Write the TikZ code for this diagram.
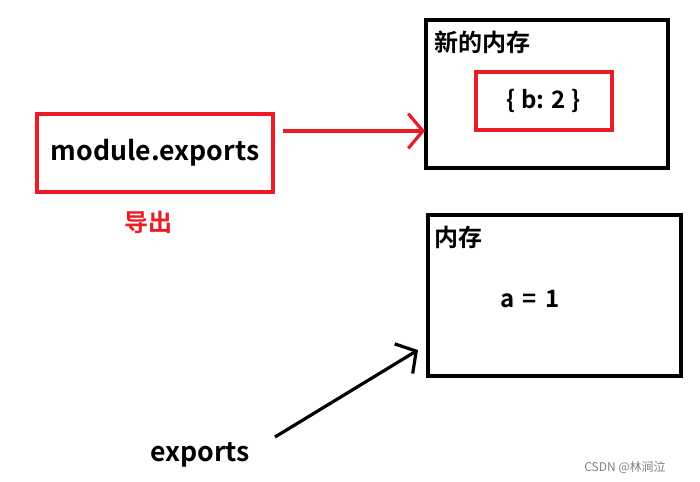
\documentclass[tikz,border=0pt]{standalone}
\usepackage{fontspec}
\setmainfont{Noto Sans CJK SC}[BoldFont={Noto Sans CJK SC Bold}]
\usetikzlibrary{arrows.meta}
\definecolor{pr}{HTML}{ED1C24}
\begin{document}
\begin{tikzpicture}[x=0.75pt,y=-0.75pt,
  bbox/.style={draw=black,line width=3pt},
  rbox/.style={draw=pr,line width=3pt},
  lbl/.style={font=\bfseries\fontsize{18}{21}\selectfont},
  arr/.style={line width=2.4pt,-{Straight Barb[length=11pt,width=26pt,line width=2.4pt]}}]
\useasboundingbox (0,0) rectangle (700,482);
\draw[bbox] (426,20) rectangle (668,168);
\node[lbl,anchor=west] (t1) at (430,42) {新的内存};
\node[rbox,minimum width=102pt,minimum height=44pt,lbl] (b) at (543.5,101) {\{ b: 2 \}};
\node[rbox,minimum width=177pt,minimum height=58pt,font=\bfseries\fontsize{20}{24}\selectfont] (m) at (155,153) {module.exports};
\coordinate (ma) at (283,131);
\coordinate (mb) at (425,131);
\draw[arr,pr] (ma) -- (mb);
\node[lbl,pr] (d) at (148,222) {导出};
\draw[bbox] (428,215) rectangle (681,376);
\node[lbl,anchor=west] (t2) at (430,237) {内存};
\node[lbl] (a) at (530,299) {a\,\,=\,\,1};
\node[lbl,font=\bfseries\fontsize{20}{24}\selectfont] (e) at (200,455) {exports};
\coordinate (ea) at (275,437);
\coordinate (eb) at (418,350);
\draw[arr] (ea) -- (eb);
\node[gray,font=\fontsize{9}{11}\selectfont] (w) at (625,467) {CSDN @林涧泣};
\end{tikzpicture}
\end{document}
